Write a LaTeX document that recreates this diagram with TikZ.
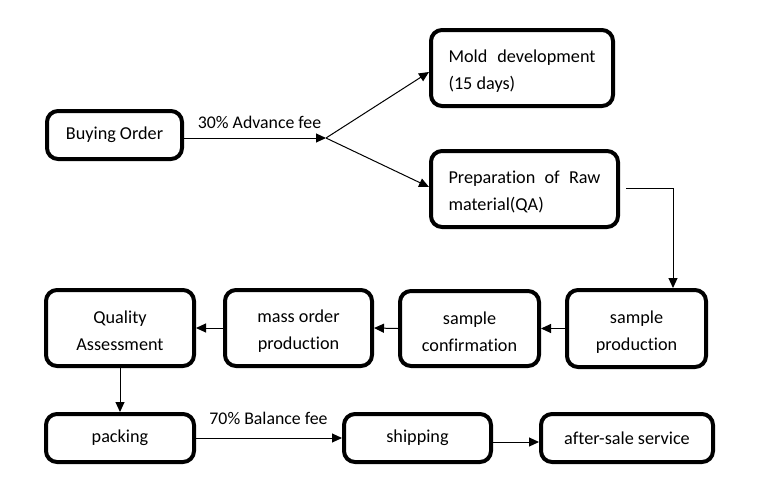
\documentclass[tikz,border=0pt]{standalone}
\usepackage{fontspec}
\setmainfont{Carlito}[Ligatures=NoCommon]
\usetikzlibrary{arrows.meta}
\newcommand\mytstrut{\rule{0pt}{19pt}}
\begin{document}
\begin{tikzpicture}[x=1pt,y=-1pt,
  box/.style={draw=black,line width=4pt,rounded corners=11pt,fill=white,
    font=\fontsize{18.2}{27}\selectfont,align=center,inner sep=0pt},
  arr/.style={draw=black,line width=1pt,-{Triangle[length=10pt,width=9pt]}},
  lbl/.style={font=\fontsize{17.8}{20}\selectfont,inner sep=0pt}]
\useasboundingbox (0,0) rectangle (776,498);
% nodes
\node[box,minimum width=135pt,minimum height=48pt] (BO) at (114.5,135) {Buying Order};
\node[box,minimum width=182pt,minimum height=76pt,align=left] (Mold) at (522,68)
  {\mytstrut\makebox[147pt][s]{Mold development}\\(15 days)};
\node[box,minimum width=187pt,minimum height=76pt,align=left] (Prep) at (524.5,189)
  {\mytstrut\makebox[152pt][s]{Preparation of Raw}\\material(QA)};
\node[box,minimum width=139pt,minimum height=77pt] (SP) at (636.5,328.5) {\mytstrut sample\\production};
\node[box,minimum width=139pt,minimum height=75pt] (SC) at (469.5,328.5) {\mytstrut sample\\confirmation};
\node[box,minimum width=147pt,minimum height=76pt] (MO) at (298.5,328) {\mytstrut mass order\\production};
\node[box,minimum width=148pt,minimum height=76pt] (QA) at (120,328) {\mytstrut Quality\\Assessment};
\node[box,minimum width=148pt,minimum height=48pt] (PK) at (120,438) {packing};
\node[box,minimum width=147pt,minimum height=48pt] (SH) at (417.5,438) {shipping};
\node[box,minimum width=172pt,minimum height=48pt] (AS) at (627,438) {after-sale service};
% labels
\node[lbl] (L1) at (259.5,122) {30\% Advance fee};
\node[lbl] (L2) at (268.5,418) {70\% Balance fee};
% helper coordinates
\coordinate (split) at (326,138);
\coordinate (ym) at (0,72);
\coordinate (yp) at (0,187);
\coordinate (c1) at (673,188);
\coordinate (ys) at (0,442);
% connectors
\draw[arr] (BO.east |- split) -- (split);
\draw[arr] (split) -- (Mold.west |- ym);
\draw[arr] (split) -- (Prep.west |- yp);
\draw[arr] ([xshift=6pt]Prep.east |- c1) -- (c1) -- (c1 |- SP.north);
\draw[arr] (SP.west) -- (SC.east);
\draw[arr] (SC.west) -- (MO.east);
\draw[arr] (MO.west) -- (QA.east);
\draw[arr] (QA.south) -- (PK.north);
\draw[arr] (PK.east) -- (SH.west);
\draw[arr] (SH.east |- ys) -- (AS.west |- ys);
\end{tikzpicture}
\end{document}
